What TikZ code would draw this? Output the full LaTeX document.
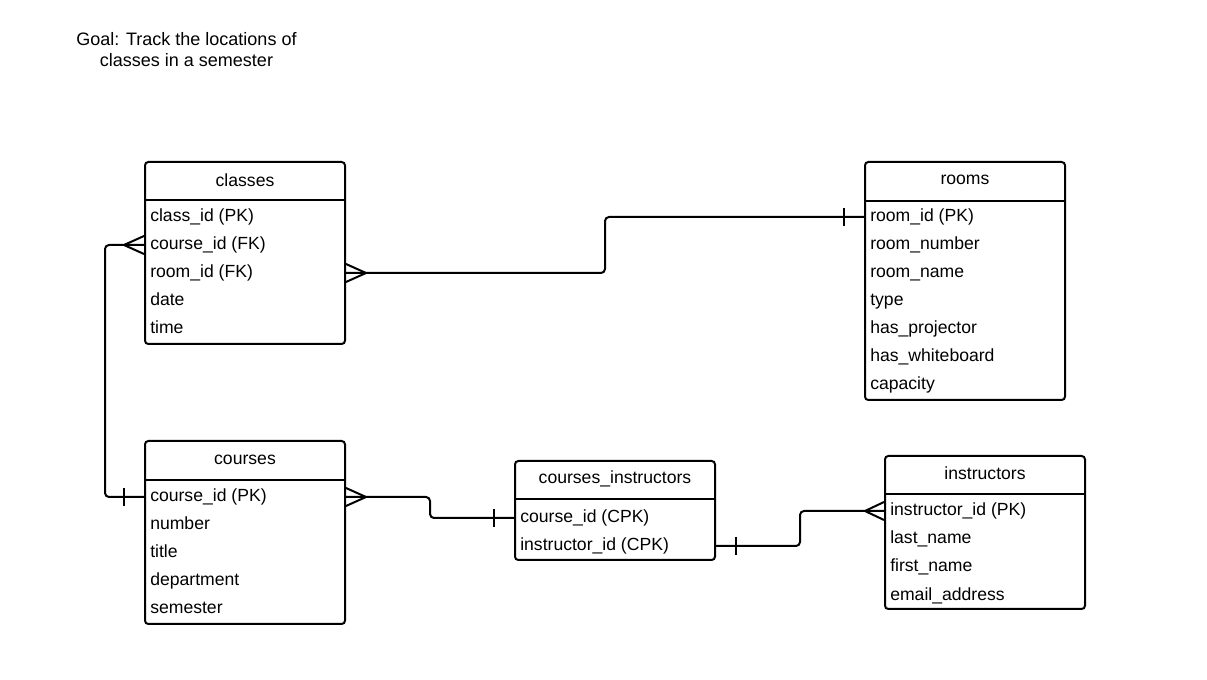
\documentclass[tikz,border=0pt]{standalone}
\usepackage{fontspec}
\setmainfont{Liberation Sans}
\usetikzlibrary{calc}

\tikzset{
  entity/.style={draw, line width=1.5pt, rounded corners=2.5pt, inner sep=0pt, minimum width=150pt},
  headtext/.style={inner sep=0pt, font=\fontsize{13.2}{16}\selectfont},
  rowtext/.style={anchor=west, inner sep=0pt, text height=11.5pt, text depth=4pt, font=\fontsize{13.2}{16}\selectfont},
  link/.style={line width=1.5pt, rounded corners=3pt},
  foot/.style={line width=1.5pt},
}

\begin{document}
\begin{tikzpicture}[x=0.75pt,y=0.75pt,yscale=-1,xscale=1]
\path[use as bounding box] (0,0) rectangle (1207,680);

% Text Node
\node[headtext, align=center, font=\fontsize{13.5}{15.75}\selectfont] (goal) at (186.5,50) {Goal: Track the locations of\\classes in a semester};

%Shape: classes
\node[entity, minimum height=136.5pt] (classes) at (245,253) {};
\draw[foot] ([yshift=29.25pt]classes.north west) -- ([yshift=29.25pt]classes.north east);
\node[headtext] (classes-head) at (245,180) {classes};
\node[rowtext] (cl-class) at (150,217) {class\_id (PK)};
\node[rowtext] (cl-course) at (150,245) {course\_id (FK)};
\node[rowtext] (cl-room) at (150,273) {room\_id (FK)};
\node[rowtext] (cl-date) at (150,301) {date};
\node[rowtext] (cl-time) at (150,329) {time};

%Shape: rooms
\node[entity, minimum height=178.5pt] (rooms) at (965,281) {};
\draw[foot] ([yshift=30pt]rooms.north west) -- ([yshift=30pt]rooms.north east);
\node[headtext] (rooms-head) at (965,180) {rooms};
\node[rowtext] (ro-id) at (870,217) {room\_id (PK)};
\node[rowtext] (ro-number) at (870,245) {room\_number};
\node[rowtext] (ro-name) at (870,273) {room\_name};
\node[rowtext] (ro-type) at (870,301) {type};
\node[rowtext] (ro-proj) at (870,329) {has\_projector};
\node[rowtext] (ro-board) at (870,357) {has\_whiteboard};
\node[rowtext] (ro-cap) at (870,385) {capacity};

%Shape: courses
\node[entity, minimum height=137.25pt] (courses) at (245,532.5) {};
\draw[foot] ([yshift=30pt]courses.north west) -- ([yshift=30pt]courses.north east);
\node[headtext] (courses-head) at (245,460) {courses};
\node[rowtext] (co-id) at (150,497) {course\_id (PK)};
\node[rowtext] (co-number) at (150,525) {number};
\node[rowtext] (co-title) at (150,553) {title};
\node[rowtext] (co-dept) at (150,581) {department};
\node[rowtext] (co-sem) at (150,609) {semester};

%Shape: courses_instructors
\node[entity, minimum height=74.25pt] (ci) at (615,510.5) {};
\draw[foot] ([yshift=29.25pt]ci.north west) -- ([yshift=29.25pt]ci.north east);
\node[headtext] (ci-head) at (615,479) {courses\_instructors};
\node[rowtext] (ci-course) at (520,518) {course\_id (CPK)};
\node[rowtext] (ci-instr) at (520,546) {instructor\_id (CPK)};

%Shape: instructors
\node[entity, minimum height=114.75pt] (instructors) at (985,532.5) {};
\draw[foot] ([yshift=29.25pt]instructors.north west) -- ([yshift=29.25pt]instructors.north east);
\node[headtext] (in-head) at (985,473) {instructors};
\node[rowtext] (in-id) at (890,511) {instructor\_id (PK)};
\node[rowtext] (in-last) at (890,539) {last\_name};
\node[rowtext] (in-first) at (890,567) {first\_name};
\node[rowtext] (in-email) at (890,595) {email\_address};

%Connector: classes -- rooms
\draw[link] (classes.east |- cl-room) -- (605,273) -- (605,217) -- (rooms.west |- ro-id);
\draw[foot] ($(classes.east |- cl-room)+(0,-9)$) -- ++(20,9) -- ++(-20,9);
\draw[foot] ($(rooms.west |- ro-id)+(-20,-9)$) -- ++(0,18);

%Connector: classes -- courses
\draw[link] (classes.west |- cl-course) -- (105,245) -- (105,497) -- (courses.west |- co-id);
\draw[foot] ($(classes.west |- cl-course)+(0,-9)$) -- ++(-20,9) -- ++(20,9);
\draw[foot] ($(courses.west |- co-id)+(-20,-9)$) -- ++(0,18);

%Connector: courses -- courses_instructors
\draw[link] (courses.east |- co-id) -- (430,497) -- (430,518) -- (ci.west |- ci-course);
\draw[foot] ($(courses.east |- co-id)+(0,-9)$) -- ++(20,9) -- ++(-20,9);
\draw[foot] ($(ci.west |- ci-course)+(-20,-9)$) -- ++(0,18);

%Connector: courses_instructors -- instructors
\draw[link] (ci.east |- ci-instr) -- (800,546) -- (800,511) -- (instructors.west |- in-id);
\draw[foot] ($(ci.east |- ci-instr)+(20,-9)$) -- ++(0,18);
\draw[foot] ($(instructors.west |- in-id)+(0,-9)$) -- ++(-19,9) -- ++(19,9);

\end{tikzpicture}
\end{document}
